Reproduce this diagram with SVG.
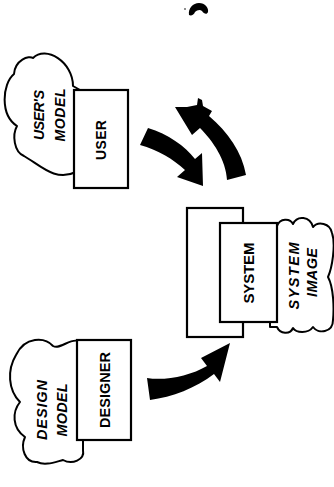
<svg xmlns="http://www.w3.org/2000/svg" width="334" height="487" viewBox="0 0 334 487">
<style>
.bg{fill:#fff}
.cloud{fill:#fff;stroke:#000;stroke-width:2;stroke-linejoin:round}
.box{fill:#fff;stroke:#000;stroke-width:2.2}
.arrow{fill:#000;stroke:none}
.lbl{font-family:"Liberation Sans",Arial,sans-serif;font-weight:bold;fill:#000;text-anchor:middle;dominant-baseline:central}
.it{font-style:italic}
</style>
<rect class="bg" x="0" y="0" width="334" height="487"/>
<path class="arrow" d="M189,15 C188,8 193,3 199,3 C205,3 209,8 208,12 C207,15 204,14 202,11 C200,9 197,10 195,12 C194,15 191,16 189,15 Z"/>
<circle class="arrow" cx="185" cy="9" r="0.8"/>

<g id="user-model">
<path class="cloud" d="M80,90 L73,86 C73,62 46,45 33,58 C29,55 15,60 14,74 C2,84 0,115 17,126 C12,135 14,152 24,156 C40,165 55,182 76,172 L85,172 L85,90 Z"/>
<text class="lbl it" font-size="14" textLength="50" transform="translate(38.5,115) rotate(-90)">USER'S</text>
<text class="lbl it" font-size="14" textLength="53" transform="translate(60,115) rotate(-90)">MODEL</text>
</g>
<g id="user">
<rect class="box" x="74" y="90" width="54" height="98"/>
<text class="lbl" font-size="14" textLength="40" transform="translate(101,140) rotate(-90)">USER</text>
</g>

<g id="designer-model">
<path class="cloud" d="M85,341 L78,341 C70,338 60,350 53,346 C45,337 25,336 16,355 C7,370 8,390 20,402 C12,412 12,428 25,437 C20,448 25,463 37,462 C45,466 55,462 63,460 C72,465 85,460 83,450 L83,440 L88,440 L88,341 Z"/>
<text class="lbl it" font-size="14.5" textLength="60" transform="translate(42,410) rotate(-90)">DESIGN</text>
<text class="lbl it" font-size="14.5" textLength="53" transform="translate(62,410) rotate(-90)">MODEL</text>
</g>
<g id="designer">
<rect class="box" x="77" y="340" width="54" height="100"/>
<text class="lbl" font-size="14.5" textLength="76" transform="translate(105,390) rotate(-90)">DESIGNER</text>
</g>

<g id="system-image">
<path class="cloud" d="M270,226 L277,226 C280,218 290,218 293,224 C297,215 310,216 313,227 C318,221 330,223 332,233 C336,245 332,268 328,277 C334,288 334,310 333,320 C333,333 318,334 313,327 C308,334 296,333 293,328 C290,335 280,334 277,327 L270,327 Z"/>
<text class="lbl it" font-size="14.5" textLength="67" transform="translate(293.5,276) rotate(-90)">SYSTEM</text>
<text class="lbl it" font-size="14.5" textLength="49" transform="translate(312,272.5) rotate(-90)">IMAGE</text>
</g>
<g id="system">
<rect class="box" x="187" y="208" width="56" height="129"/>
<rect class="box" x="220" y="223" width="57" height="99"/>
<text class="lbl" font-size="15" textLength="61" transform="translate(248.5,273) rotate(-90)">SYSTEM</text>
</g>

<g id="connectors">
<path class="arrow" d="M148,128 C168,134 185,146 195,159 L202,153 L203,186 L177,177 L185,170 C173,159 158,150 140,145 Z"/>
<path class="arrow" d="M227,180 C226,160 213,141 200,128 L192,135 L175,107 L187,107 L197,105 L198,98 L202,100 L203,106 L212,111 L209,116 C228,132 242,152 246,175 Z"/>
<path class="arrow" d="M147,378 C165,381 190,376 207,366 L201,358 L230,343 L220,382 L214,374 C196,388 172,397 150,400 Z"/>
</g>
</svg>
